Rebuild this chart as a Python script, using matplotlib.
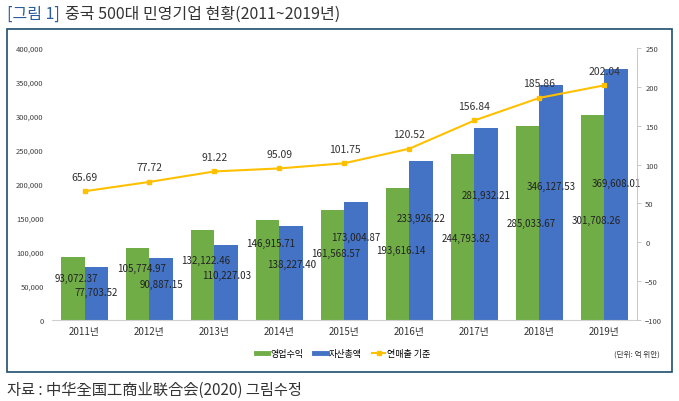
import matplotlib
matplotlib.use('Agg')
import matplotlib.pyplot as plt
from matplotlib.lines import Line2D
from matplotlib.patches import Rectangle
import numpy as np

plt.rcParams['font.family'] = ['Noto Sans CJK KR', 'Noto Sans CJK SC', 'DejaVu Sans']

years = ['2011년', '2012년', '2013년', '2014년', '2015년', '2016년', '2017년', '2018년', '2019년']
revenue = [93072.37, 105774.97, 132122.46, 146915.71, 161568.57, 193616.14, 244793.82, 285033.67, 301708.26]
assets = [77703.52, 90887.15, 110227.03, 138227.40, 173004.87, 233926.22, 281932.21, 346127.53, 369608.01]
sales = [65.69, 77.72, 91.22, 95.09, 101.75, 120.52, 156.84, 185.86, 202.04]

# where the bar labels sit, as a share of the bar height
rev_lab = [0.67, 0.72, 0.67, 0.77, 0.61, 0.535, 0.49, 0.50, 0.49]
ast_lab = [0.53, 0.58, 0.60, 0.60, 0.71, 0.64, 0.65, 0.57, 0.545]

green = '#70AD47'
blue = '#4472C4'
gold = '#FFC000'

fig = plt.figure(figsize=(6.79, 4.02), dpi=100)
ax = fig.add_axes([0.0766, 0.2015, 0.8614, 0.6765])
ax2 = ax.twinx()

x = np.arange(len(years))
w = 0.36
ax.bar(x - w/2, revenue, w, color=green, zorder=2)
ax.bar(x + w/2, assets, w, color=blue, zorder=2)

for i in range(len(years)):
    ax.text(x[i] - w/2 + 0.05, revenue[i]*rev_lab[i], format(revenue[i], ',.2f'),
            ha='center', va='center', fontsize=7, color='#222222', zorder=5)
    ax.text(x[i] + w/2, assets[i]*ast_lab[i], format(assets[i], ',.2f'),
            ha='center', va='center', fontsize=7, color='#222222', zorder=5)

ax.set_xlim(-0.5, len(years) - 0.5)
ax.set_ylim(0, 400000)
ax.set_yticks(np.arange(0, 400001, 50000))
ax.set_yticklabels([format(v, ',') for v in range(0, 400001, 50000)])
ax.set_xticks(x)
ax.set_xticklabels(years)
ax.tick_params(axis='y', length=0, labelsize=5.5, labelcolor='#404040', pad=6)
ax.tick_params(axis='x', length=0, labelsize=7, labelcolor='#333333', pad=4)
for s in ['top', 'left', 'right']:
    ax.spines[s].set_visible(False)
ax.spines['bottom'].set_color('#D0D0D0')

ax2.plot(x, sales, color=gold, lw=1.5, marker='s', ms=3.5, zorder=4)
for i in range(len(years)):
    ax2.annotate(format(sales[i], '.2f'), (x[i], sales[i]), xytext=(0, 7),
                 textcoords='offset points', ha='center', va='bottom',
                 fontsize=7.5, color='#333333')
ax2.set_ylim(-100, 250)
ax2.set_yticks(np.arange(-100, 251, 50))
ax2.tick_params(axis='y', length=3, width=0.6, color='#BFBFBF', labelsize=5.5,
                labelcolor='#404040', pad=3)
for s in ['top', 'left', 'bottom']:
    ax2.spines[s].set_visible(False)
ax2.spines['right'].set_color('#BFBFBF')
ax2.spines['right'].set_linewidth(0.6)

handles = [Line2D([], [], color=green, lw=3.5),
           Line2D([], [], color=blue, lw=3.5),
           Line2D([], [], color=gold, lw=1.5, marker='s', ms=3.5)]
fig.legend(handles, ['영업수익', '자산총액', '연매출 기준'], loc='center',
           bbox_to_anchor=(0.505, 0.117), ncol=3, frameon=False, fontsize=6.5,
           handlelength=1.4, handletextpad=0.2, columnspacing=1.2)
fig.text(0.972, 0.117, '(단위: 억 위안)', ha='right', va='center', fontsize=5.5, color='#333333')

fig.patches.append(Rectangle((0.0103, 0.073), 0.979, 0.852, transform=fig.transFigure,
                             fill=False, edgecolor='#1F4E6E', lw=1.2))

r = fig.canvas.get_renderer()
t1 = fig.text(0.0103, 0.965, '[그림 1]', ha='left', va='center', fontsize=11.5, color='#2B5C9B')
bb = t1.get_window_extent(renderer=r)
fig.text(bb.x1 / fig.bbox.width + 0.008, 0.965, '중국 500대 민영기업 현황(2011~2019년)',
         ha='left', va='center', fontsize=11.5, color='#333333')

fig.text(0.0103, 0.03, '자료 : 中华全国工商业联合会(2020) 그림수정', ha='left', va='center',
         fontsize=11, color='#333333')

fig.savefig('out.png', dpi=100)
